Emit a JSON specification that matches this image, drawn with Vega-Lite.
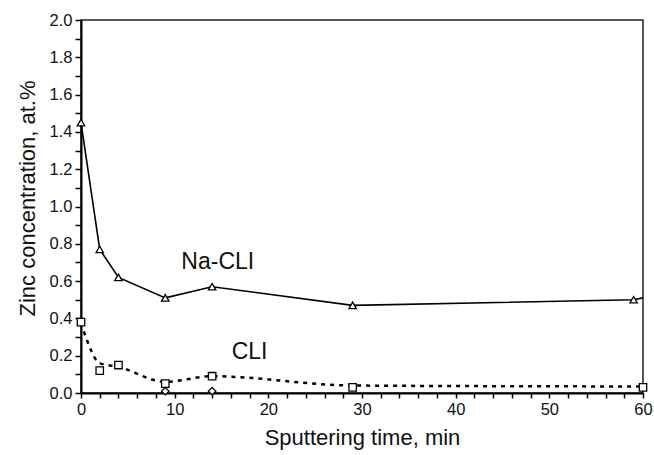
{
  "$schema": "https://vega.github.io/schema/vega-lite/v6.json",
  "width": 562,
  "height": 373,
  "autosize": {"type": "none"},
  "padding": {"left": 81, "top": 20, "right": 11, "bottom": 62},
  "background": "white",
  "config": {
    "font": "Liberation Sans",
    "view": {"stroke": "#222", "strokeWidth": 1.5},
    "axis": {
      "grid": false,
      "domainColor": "black",
      "domainWidth": 2,
      "tickColor": "black",
      "tickWidth": 1.5,
      "labelColor": "#111",
      "titleColor": "#111",
      "labelFont": "Liberation Sans",
      "titleFont": "Liberation Sans",
      "labelFontSize": 16.5,
      "labelFlush": false,
      "labelBound": false,
      "labelOverlap": false,
      "titleFontWeight": "normal"
    }
  },
  "datasets": {
    "markers": [
      {"series": "Na-CLI", "t": 0, "zn": 1.45},
      {"series": "Na-CLI", "t": 2, "zn": 0.77},
      {"series": "Na-CLI", "t": 4, "zn": 0.62},
      {"series": "Na-CLI", "t": 9, "zn": 0.51},
      {"series": "Na-CLI", "t": 14, "zn": 0.57},
      {"series": "Na-CLI", "t": 29, "zn": 0.47},
      {"series": "Na-CLI", "t": 59, "zn": 0.5},
      {"series": "CLI", "t": 0, "zn": 0.38},
      {"series": "CLI", "t": 2, "zn": 0.12},
      {"series": "CLI", "t": 4, "zn": 0.15},
      {"series": "CLI", "t": 9, "zn": 0.05},
      {"series": "CLI", "t": 14, "zn": 0.09},
      {"series": "CLI", "t": 29, "zn": 0.03},
      {"series": "CLI", "t": 60, "zn": 0.03},
      {"series": "other", "t": 9, "zn": 0.01},
      {"series": "other", "t": 14, "zn": 0.01}
    ],
    "naline": [
      {"t": 0, "zn": 1.45},
      {"t": 2, "zn": 0.77},
      {"t": 4, "zn": 0.62},
      {"t": 9, "zn": 0.51},
      {"t": 14, "zn": 0.57},
      {"t": 29, "zn": 0.47},
      {"t": 59, "zn": 0.5},
      {"t": 60, "zn": 0.51}
    ],
    "cliline": [
      {"t": 0.3, "zn": 0.33},
      {"t": 2, "zn": 0.16},
      {"t": 4, "zn": 0.14},
      {"t": 9, "zn": 0.06},
      {"t": 14, "zn": 0.09},
      {"t": 29, "zn": 0.04},
      {"t": 60, "zn": 0.035}
    ],
    "labels": [
      {"t": 14.6, "zn": 0.7, "label": "Na-CLI"},
      {"t": 18, "zn": 0.22, "label": "CLI"}
    ]
  },
  "encoding": {
    "x": {
      "field": "t", "type": "quantitative",
      "scale": {"domain": [0, 60], "nice": false},
      "axis": {
        "title": "Sputtering time, min",
        "titleFontSize": 22,
        "titlePadding": 10,
        "labelOverlap": false,
        "values": [0,2,4,6,8,10,12,14,16,18,20,22,24,26,28,30,32,34,36,38,40,42,44,46,48,50,52,54,56,58,60],
        "labelExpr": "datum.value % 10 == 0 ? format(datum.value, 'd') : ''",
        "tickSize": 5,
        "labelPadding": 3
      }
    },
    "y": {
      "field": "zn", "type": "quantitative",
      "scale": {"domain": [0, 2], "nice": false},
      "axis": {
        "title": "Zinc concentration, at.%",
        "titleFontSize": 22,
        "titlePadding": 10,
        "titleY": 178,
        "labelOverlap": false,
        "values": [0,0.1,0.2,0.3,0.4,0.5,0.6,0.7,0.8,0.9,1.0,1.1,1.2,1.3,1.4,1.5,1.6,1.7,1.8,1.9,2.0],
        "labelExpr": "round(datum.value*10) % 2 == 0 ? format(datum.value, '.1f') : ''",
        "tickSize": 6,
        "labelPadding": 3
      }
    }
  },
  "layer": [
    {
      "data": {"name": "naline"},
      "mark": {"type": "line", "color": "black", "strokeWidth": 1.6}
    },
    {
      "data": {"name": "cliline"},
      "mark": {"type": "line", "color": "black", "strokeWidth": 2.5, "strokeDash": [4, 5], "interpolate": "monotone"}
    },
    {
      "data": {"name": "markers"},
      "mark": {"type": "point", "filled": false, "stroke": "black", "fill": "white", "fillOpacity": 1, "strokeWidth": 1.3, "size": 55},
      "encoding": {
        "shape": {
          "field": "series", "type": "nominal",
          "scale": {"domain": ["Na-CLI", "CLI", "other"], "range": ["triangle-up", "square", "diamond"]},
          "legend": null
        }
      }
    },
    {
      "data": {"name": "labels"},
      "mark": {"type": "text", "fontSize": 23, "color": "#111", "font": "Liberation Sans"},
      "encoding": {
        "text": {"field": "label"}
      }
    }
  ]
}
